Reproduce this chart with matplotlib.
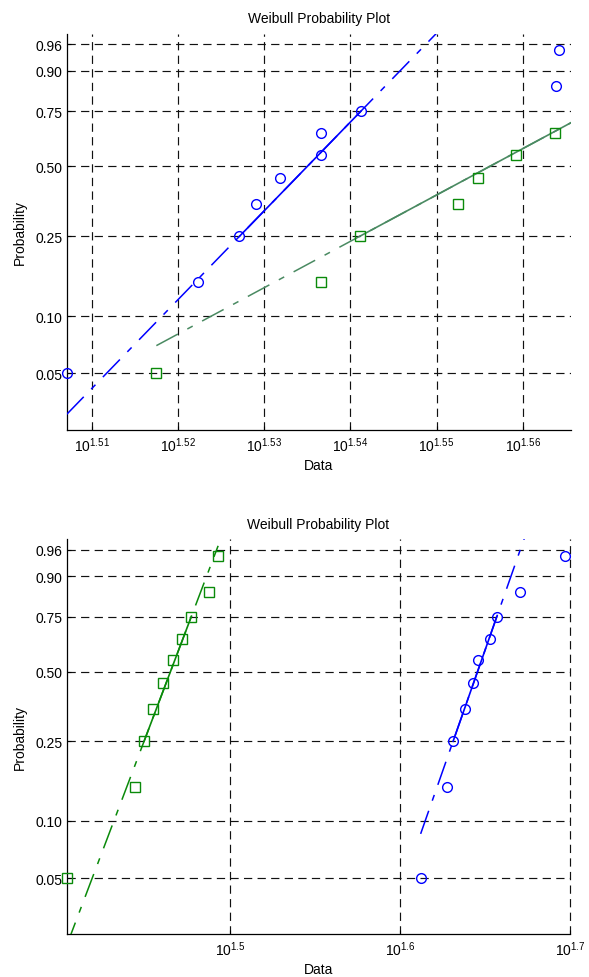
import numpy as np
import matplotlib
matplotlib.use("Agg")
import matplotlib.pyplot as plt
from matplotlib.ticker import FixedLocator, FixedFormatter, NullLocator

plt.rcParams["font.family"] = ["Liberation Sans", "DejaVu Sans"]
plt.rcParams["mathtext.fontset"] = "custom"
plt.rcParams["mathtext.rm"] = "Liberation Sans"
plt.rcParams["font.size"] = 10

# plotting positions (i - 0.5) / n for n = 10
probs = [0.05, 0.15, 0.25, 0.35, 0.45, 0.55, 0.65, 0.75, 0.85, 0.95]

# top plot data
top_blue = [32.14, 33.29, 33.66, 33.81, 34.03, 34.40, 34.40, 34.77, 36.63, 36.66]
# last three green points lie beyond the right edge of the axes
top_green = [32.92, 34.40, 34.76, 35.69, 35.88, 36.24, 36.62, 36.99, 37.50, 38.30]

# bottom plot data
bottom_green = [25.35, 27.80, 28.15, 28.48, 28.89, 29.27, 29.64, 30.01, 30.75, 31.12]
bottom_blue = [40.94, 42.44, 42.78, 43.50, 43.92, 44.25, 44.95, 45.39, 46.84, 49.77]

y_ticks = [0.05, 0.10, 0.25, 0.50, 0.75, 0.90, 0.96]
top_xexp = ["1.51", "1.52", "1.53", "1.54", "1.55", "1.56"]
bottom_xexp = ["1.5", "1.6", "1.7"]

BLUE = "#0000ff"
GREEN = "#0a8a0a"
GREY_GREEN = "#4a8a62"
DASHDOT = (0, (16, 7, 4, 7))


def weib(p):
    p = np.asarray(p, dtype=float)
    with np.errstate(all="ignore"):
        return np.log(-np.log(1 - p))


def weib_inv(w):
    w = np.asarray(w, dtype=float)
    with np.errstate(all="ignore"):
        return 1 - np.exp(-np.exp(w))


def fit_line(ax, data, color):
    # line through the 25th and 75th percentile points, like wblplot
    d = np.sort(np.asarray(data))
    x1, x3 = d[2], d[7]
    w1, w3 = weib(probs[2]), weib(probs[7])
    slope = (w3 - w1) / (np.log10(x3) - np.log10(x1))

    def p_at(x):
        return weib_inv(w1 + slope * (np.log10(x) - np.log10(x1)))

    ax.plot([d[0], d[-1]], [p_at(d[0]), p_at(d[-1])], color=color,
            lw=1.1, linestyle=DASHDOT, zorder=3)
    ax.plot([x1, x3], [probs[2], probs[7]], color=color, lw=1.2, zorder=3)


def markers(ax, data, fmt, color, ms, xmax):
    x = np.asarray(data)
    p = np.asarray(probs)
    keep = x <= xmax * 1.0005
    ax.plot(x[keep], p[keep], fmt, mfc="none", mec=color, ms=ms, mew=1.0,
            clip_on=False, zorder=4)


def setup(ax, xlim, xexp):
    ax.set_xscale("log")
    ax.set_yscale("function", functions=(weib, weib_inv))
    ax.set_xlim(*xlim)
    ax.set_ylim(0.025, 0.975)

    ax.xaxis.set_major_locator(FixedLocator([10 ** float(e) for e in xexp]))
    ax.xaxis.set_major_formatter(FixedFormatter([r"$\mathregular{10^{%s}}$" % e for e in xexp]))
    ax.xaxis.set_minor_locator(NullLocator())
    ax.yaxis.set_major_locator(FixedLocator(y_ticks))
    ax.yaxis.set_major_formatter(FixedFormatter(["%.2f" % t for t in y_ticks]))
    ax.yaxis.set_minor_locator(NullLocator())

    ax.tick_params(direction="in", length=3, width=0.8, pad=3, labelsize=10)
    ax.tick_params(axis="x", pad=4)
    for s in ["top", "right"]:
        ax.spines[s].set_visible(False)
    for s in ["left", "bottom"]:
        ax.spines[s].set_linewidth(0.9)

    ax.set_axisbelow(True)
    ax.grid(True, which="major", color="#111111", lw=0.85, linestyle=(0, (7, 4.5)))
    # keep a grid line that sits on the right edge visible
    for g in ax.get_xgridlines():
        g.set_clip_on(False)
    ax.set_title("Weibull Probability Plot", fontsize=10, pad=8)
    ax.set_xlabel("Data", fontsize=10, labelpad=3)
    ax.set_ylabel("Probability", fontsize=10, labelpad=6)


fig = plt.figure(figsize=(5.89, 9.78), dpi=100)
W, H = 589.0, 978.0

# top panel
ax1 = fig.add_axes([66.7 / W, 1 - 430.5 / H, 504.3 / W, 396.0 / H])
top_xlim = (min(top_blue), 10 ** 1.56562)
setup(ax1, top_xlim, top_xexp)
fit_line(ax1, top_blue, BLUE)
fit_line(ax1, top_green, GREY_GREEN)
markers(ax1, top_blue, "o", BLUE, 7, top_xlim[1])
markers(ax1, top_green, "s", GREEN, 7.5, top_xlim[1])

# bottom panel
ax2 = fig.add_axes([66.7 / W, 1 - 935.0 / H, 503.3 / W, 395.0 / H])
bottom_xlim = (min(bottom_green), 10 ** 1.7)
setup(ax2, bottom_xlim, bottom_xexp)
fit_line(ax2, bottom_green, GREEN)
fit_line(ax2, bottom_blue, BLUE)
markers(ax2, bottom_green, "s", GREEN, 7.5, bottom_xlim[1])
markers(ax2, bottom_blue, "o", BLUE, 7, bottom_xlim[1])

fig.savefig("out.png", dpi=100)
